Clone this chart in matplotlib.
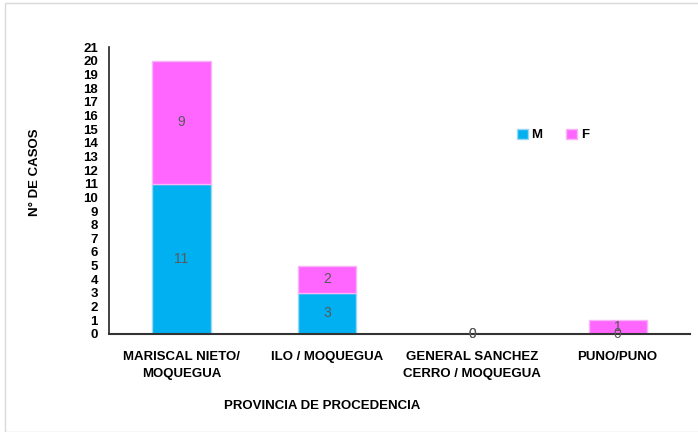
import matplotlib.pyplot as plt
import numpy as np
from matplotlib.patches import Rectangle

plt.rcParams['font.family'] = ['Liberation Sans', 'DejaVu Sans']

provincias = ['MARISCAL NIETO/\nMOQUEGUA', 'ILO / MOQUEGUA',
              'GENERAL SANCHEZ\nCERRO / MOQUEGUA', 'PUNO/PUNO']
masculino = [11, 3, 0, 0]
femenino = [9, 2, 0, 1]

azul = '#00B0F0'
rosa = '#FF66FF'

fig = plt.figure(figsize=(6.98, 4.32), dpi=100)
ax = fig.add_axes([0.156, 0.227, 0.833, 0.664])

x = np.arange(len(provincias))
m = np.array(masculino)
f = np.array(femenino)

b1 = ax.bar(x, m, width=0.4, color=azul, edgecolor='#9ad8f5', linewidth=1, label='M')
b2 = ax.bar(x, f, width=0.4, bottom=m, color=rosa, edgecolor='#f9b3f9', linewidth=1, label='F')

# etiquetas de datos
for i in range(len(x)):
    ax.text(x[i], m[i] / 2, str(m[i]), ha='center', va='center', fontsize=10, color='#595959')
    ax.text(x[i], m[i] + f[i] / 2, str(f[i]), ha='center', va='center', fontsize=10, color='#595959')

ax.set_xlim(-0.5, 3.5)
ax.set_ylim(0, 21)
ax.set_yticks(range(0, 22))
ax.set_xticks(x)
ax.set_xticklabels(provincias, fontsize=9.5, fontweight='bold', linespacing=1.55)
ax.tick_params(axis='both', length=0)
ax.tick_params(axis='y', labelsize=9.5, pad=8)
ax.tick_params(axis='x', pad=12)
for lab in ax.get_yticklabels():
    lab.set_fontweight('bold')

for s in ['top', 'right']:
    ax.spines[s].set_visible(False)
ax.spines['left'].set_linewidth(1.2)
ax.spines['bottom'].set_linewidth(1.5)
ax.spines['left'].set_color('#222222')
ax.spines['bottom'].set_color('#333333')

fig.text(35 / 698, 1 - 172 / 432, 'N° DE CASOS', rotation=90, ha='center', va='center',
         fontsize=9.5, fontweight='bold')
fig.text(322 / 698, 1 - 406 / 432, 'PROVINCIA DE PROCEDENCIA', ha='center', va='center',
         fontsize=9.5, fontweight='bold')

fig.legend(handles=[b1, b2], loc='center', bbox_to_anchor=(553 / 698, 1 - 135 / 432),
           ncol=2, frameon=False, handlelength=0.8, handleheight=0.8, handletextpad=0.3,
           columnspacing=1.8, prop={'weight': 'bold', 'size': 9.5})

# borde del área del gráfico
fig.patches.append(Rectangle((5 / 698, 0), 1, 1 - 3 / 432, transform=fig.transFigure,
                             fill=False, edgecolor='#d9d9d9', linewidth=1))

fig.savefig('out.png', dpi=100)
